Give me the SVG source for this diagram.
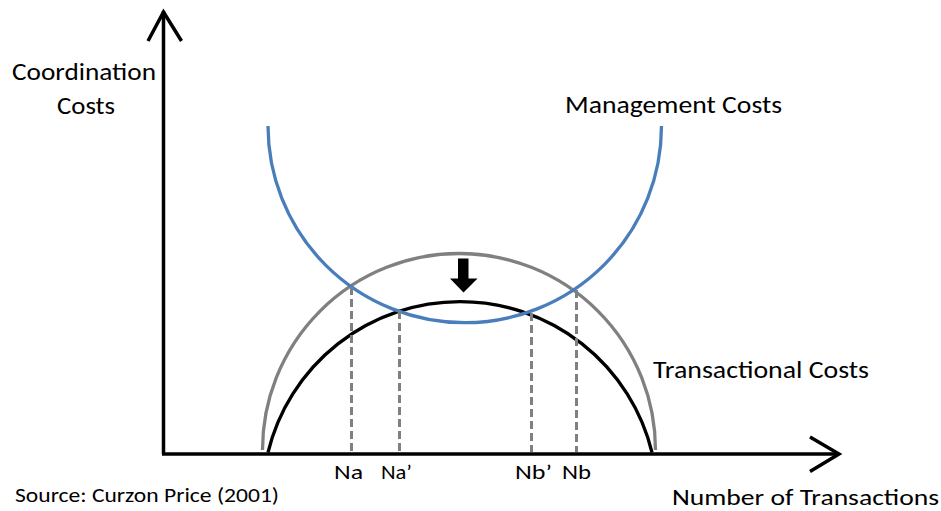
<svg xmlns="http://www.w3.org/2000/svg" width="941" height="511" viewBox="0 0 941 511">
  <style>
    text { font-family: Carlito, Lato, "Liberation Sans", sans-serif; fill: #000; }
    .lbl { font-size: 23.5px; }
    .tick { font-size: 20.5px; }
    .axis { stroke: #000; stroke-width: 3.5; fill: none; }
    .curve { fill: none; stroke-width: 3.3; }
    .dash { stroke: #808080; stroke-width: 3; stroke-dasharray: 8 4; fill: none; }
  </style>
  <rect width="941" height="511" fill="#fff"/>

  <g id="axes">
    <line class="axis" x1="163.5" y1="11" x2="163.5" y2="454"/>
    <polyline class="axis" points="148,41 163.5,12 181.5,41"/>
    <line class="axis" x1="162" y1="454" x2="838" y2="454"/>
    <polyline class="axis" points="810,437 839,454 810,471.5"/>
  </g>

  <g id="transactional-costs-before">
    <path class="curve" d="M262.5,450 A196.5,196.5 0 0 1 655.5,450" stroke="#808080"/>
  </g>
  <g id="transactional-costs-after">
    <path class="curve" d="M268,452.5 A197.6,197.6 0 0 1 652,452.5" stroke="#000"/>
  </g>
  <g id="management-costs">
    <path class="curve" d="M268,126 A196.5,196.5 0 0 0 661.5,126" stroke="#4a7ebb"/>
  </g>

  <g id="connectors">
    <line class="dash" x1="351.5" y1="287" x2="351.5" y2="452"/>
    <line class="dash" x1="399.5" y1="311" x2="399.5" y2="452"/>
    <line class="dash" x1="531.5" y1="313" x2="531.5" y2="452"/>
    <line class="dash" x1="576.5" y1="290" x2="576.5" y2="452"/>
  </g>

  <g id="shift-arrow">
    <polygon points="458,258.5 468.5,258.5 468.5,278.5 477.5,278.5 463.5,292.5 450,278.5 458,278.5" fill="#000"/>
  </g>

  <g id="labels">
    <text class="lbl" x="12" y="80" textLength="144" lengthAdjust="spacingAndGlyphs">Coordination</text>
    <text class="lbl" x="57" y="114" textLength="58" lengthAdjust="spacingAndGlyphs">Costs</text>
    <text class="lbl" x="565" y="113" textLength="217" lengthAdjust="spacingAndGlyphs">Management Costs</text>
    <text class="lbl" x="653" y="378" textLength="216" lengthAdjust="spacingAndGlyphs">Transactional Costs</text>
    <text class="tick" x="334" y="478.5" textLength="29" lengthAdjust="spacingAndGlyphs">Na</text>
    <text class="tick" x="381" y="478.5" textLength="31" lengthAdjust="spacingAndGlyphs">Na’</text>
    <text class="tick" x="515" y="478.5" textLength="37" lengthAdjust="spacingAndGlyphs">Nb’</text>
    <text class="tick" x="562" y="478.5" textLength="29" lengthAdjust="spacingAndGlyphs">Nb</text>
    <text x="15" y="502" font-size="19.5" textLength="264" lengthAdjust="spacingAndGlyphs">Source: Curzon Price (2001)</text>
    <text x="672" y="504.5" font-size="22.5" textLength="267" lengthAdjust="spacingAndGlyphs">Number of Transactions</text>
  </g>
</svg>
